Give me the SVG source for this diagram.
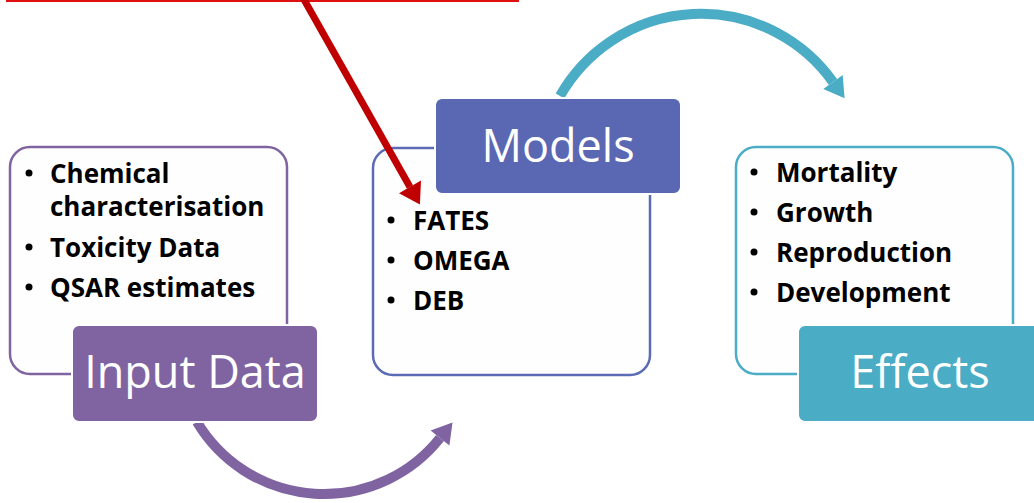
<svg xmlns="http://www.w3.org/2000/svg" width="1034" height="503" viewBox="0 0 1034 503">
<style>
.box{fill:#fefefe;stroke-width:2.5}
.lbl{stroke:#ffffff;stroke-width:2}
.lt{font-family:"Open Sans","Liberation Sans",sans-serif;font-size:45px;fill:#ffffff;text-anchor:middle}
.bt{font-family:"Open Sans","Liberation Sans",sans-serif;font-size:26px;font-weight:bold;fill:#000000}
.dot{fill:#000000}
</style>
<rect width="1034" height="503" fill="#ffffff"/>
<g id="connectors">
<path d="M197 422 A148 148 0 0 0 440 438" fill="none" stroke="#8064A2" stroke-width="10"/>
<polygon points="452.5,422.4 449.4,445.4 430.6,430.6" fill="#8064A2"/>
<path d="M560 96 A162 162 0 0 1 833 82" fill="none" stroke="#4BACC6" stroke-width="10"/>
<polygon points="844.6,98.3 842.7,75 823.3,89" fill="#4BACC6"/>
</g>
<g id="input-data">
<rect class="box" x="10" y="147" width="277" height="227" rx="20" stroke="#8064A2"/>
<circle class="dot" cx="29" cy="173" r="3.5"/>
<text class="bt" x="50" y="183">Chemical</text>
<text class="bt" x="50" y="216">characterisation</text>
<circle class="dot" cx="29" cy="247" r="3.5"/>
<text class="bt" x="50" y="257">Toxicity Data</text>
<circle class="dot" cx="29" cy="287" r="3.5"/>
<text class="bt" x="50" y="297">QSAR estimates</text>
<rect class="lbl" x="72" y="325" width="246" height="97" rx="7" fill="#8064A2"/>
<text class="lt" x="195" y="388">Input Data</text>
</g>
<g id="models">
<rect class="box" x="373" y="148" width="277" height="227" rx="20" stroke="#5B6BB5"/>
<circle class="dot" cx="391" cy="220" r="3.5"/>
<text class="bt" x="413" y="230">FATES</text>
<circle class="dot" cx="391" cy="260" r="3.5"/>
<text class="bt" x="413" y="270">OMEGA</text>
<circle class="dot" cx="391" cy="300" r="3.5"/>
<text class="bt" x="413" y="310">DEB</text>
<rect class="lbl" x="435" y="98" width="246" height="96" rx="7" fill="#5A67B3"/>
<text class="lt" x="558" y="162">Models</text>
</g>
<g id="effects">
<rect class="box" x="736" y="147" width="277" height="227" rx="20" stroke="#4BACC6"/>
<circle class="dot" cx="754" cy="172" r="3.5"/>
<text class="bt" x="776" y="182">Mortality</text>
<circle class="dot" cx="754" cy="212" r="3.5"/>
<text class="bt" x="776" y="222">Growth</text>
<circle class="dot" cx="754" cy="252" r="3.5"/>
<text class="bt" x="776" y="262">Reproduction</text>
<circle class="dot" cx="754" cy="292" r="3.5"/>
<text class="bt" x="776" y="302">Development</text>
<rect class="lbl" x="798" y="325" width="246" height="97" rx="7" fill="#4BACC6"/>
<text class="lt" x="920" y="388">Effects</text>
</g>
<g id="pointer">
<rect x="6" y="0" width="513" height="2" fill="#E01010"/>
<line x1="302" y1="-4" x2="410" y2="187" stroke="#C00000" stroke-width="7"/>
<polygon points="419.9,204.4 421,180.5 399,193.3" fill="#C00000"/>
</g>
</svg>
